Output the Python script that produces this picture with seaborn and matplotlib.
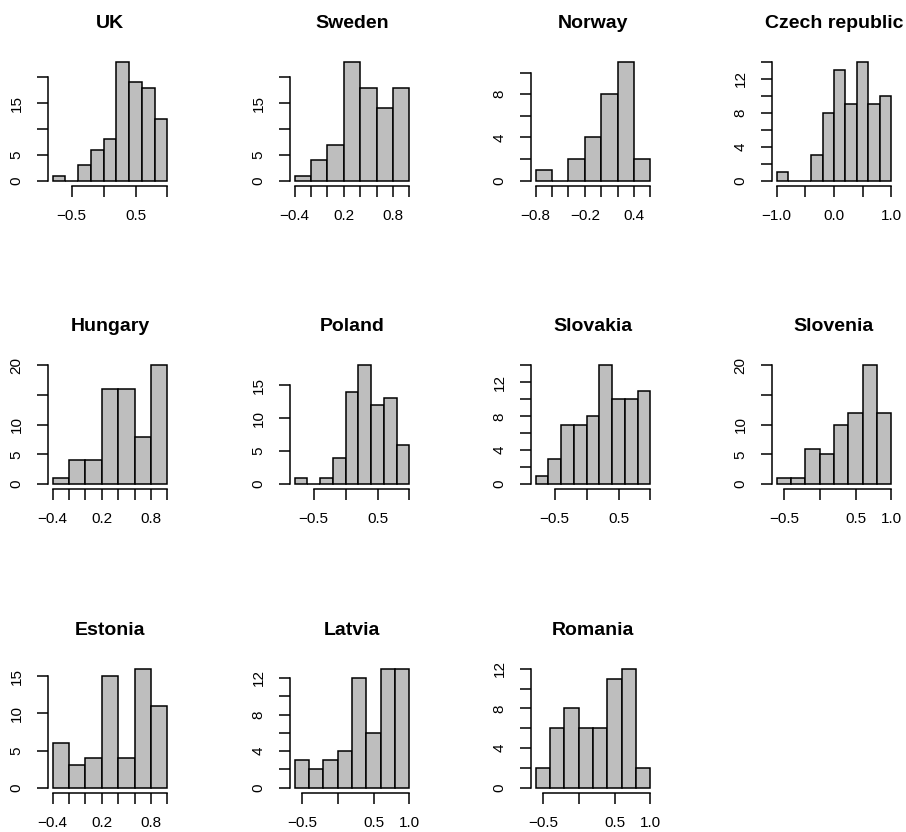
import numpy as np
import pandas as pd
import matplotlib
matplotlib.use("Agg")
import matplotlib.pyplot as plt
import seaborn as sns

# ---------------------------------------------------------------
# Data : counts per bin (bin width 0.2)
# ---------------------------------------------------------------

countries = ["UK", "Sweden", "Norway", "Czech republic",
             "Hungary", "Poland", "Slovakia", "Slovenia",
             "Estonia", "Latvia", "Romania"]

bin_width = 0.2
bin_start = [-0.8, -0.4, -0.8, -1.0,
             -0.4, -0.8, -0.8, -0.6,
             -0.4, -0.6, -0.6]

uk_counts = [1, 0, 3, 6, 8, 23, 19, 18, 12]
sweden_counts = [1, 4, 7, 23, 18, 14, 18]
norway_counts = [1, 0, 2, 4, 8, 11, 2]
czech_counts = [1, 0, 0, 3, 8, 13, 9, 14, 9, 10]
hungary_counts = [1, 4, 4, 16, 16, 8, 20]
poland_counts = [1, 0, 1, 4, 14, 18, 12, 13, 6]
slovakia_counts = [1, 3, 7, 7, 8, 14, 10, 10, 11]
slovenia_counts = [1, 1, 6, 5, 10, 12, 20, 12]
estonia_counts = [6, 3, 4, 15, 4, 16, 11]
latvia_counts = [3, 2, 3, 4, 12, 6, 13, 13]
romania_counts = [2, 6, 8, 6, 6, 11, 12, 2]

all_counts = [uk_counts, sweden_counts, norway_counts, czech_counts,
              hungary_counts, poland_counts, slovakia_counts, slovenia_counts,
              estonia_counts, latvia_counts, romania_counts]

# x ticks (R pretty()) and the labels R actually printed
xt_half = [-0.5, 0.0, 0.5, 1.0]
xt_fifth = [-0.4, -0.2, 0.0, 0.2, 0.4, 0.6, 0.8, 1.0]
xt_norway = [-0.8, -0.6, -0.4, -0.2, 0.0, 0.2, 0.4, 0.6]
xt_czech = [-1.0, -0.5, 0.0, 0.5, 1.0]

xl_half_a = ["\u22120.5", "", "0.5", ""]
xl_half_b = ["\u22120.5", "", "0.5", "1.0"]
xl_fifth = ["\u22120.4", "", "", "0.2", "", "", "0.8", ""]
xl_norway = ["\u22120.8", "", "", "\u22120.2", "", "", "0.4", ""]
xl_czech = ["\u22121.0", "", "0.0", "", "1.0"]

x_ticks = [xt_half, xt_fifth, xt_norway, xt_czech,
           xt_fifth, xt_half, xt_half, xt_half,
           xt_fifth, xt_half, xt_half]
x_labels = [xl_half_a, xl_fifth, xl_norway, xl_czech,
            xl_fifth, xl_half_a, xl_half_a, xl_half_b,
            xl_fifth, xl_half_b, xl_half_b]

yt_20 = [0, 5, 10, 15, 20]
yt_15 = [0, 5, 10, 15]
yt_10 = [0, 2, 4, 6, 8, 10]
yt_12 = [0, 2, 4, 6, 8, 10, 12]
yt_14 = [0, 2, 4, 6, 8, 10, 12, 14]

yl_20a = ["0", "5", "", "15", ""]
yl_20b = ["0", "5", "10", "", "20"]
yl_15 = ["0", "5", "10", "15"]
yl_10 = ["0", "", "4", "", "8", ""]
yl_12 = ["0", "", "4", "", "8", "", "12"]
yl_14 = ["0", "", "4", "", "8", "", "12", ""]

y_ticks = [yt_20, yt_20, yt_10, yt_14,
           yt_20, yt_15, yt_14, yt_20,
           yt_15, yt_12, yt_12]
y_labels = [yl_20a, yl_20a, yl_10, yl_14,
            yl_20b, yl_15, yl_14, yl_20b,
            yl_15, yl_12, yl_12]

# ---------------------------------------------------------------
# Figure
# ---------------------------------------------------------------

plt.rcParams["font.family"] = ["Liberation Sans", "DejaVu Sans"]
plt.rcParams["axes.unicode_minus"] = True

W, H = 906, 832
fig = plt.figure(figsize=(W / 100, H / 100), dpi=100)

col_left = [48, 290, 531, 772]
row_top = [57, 360.5, 664]
panel_w, panel_h = 124, 128.5

for i, name in enumerate(countries):
    r, c = divmod(i, 4)
    ax = fig.add_axes([col_left[c] / W, 1 - (row_top[r] + panel_h) / H,
                       panel_w / W, panel_h / H])

    counts = all_counts[i]
    edges = [round(bin_start[i] + k * bin_width, 2) for k in range(len(counts) + 1)]
    centers = [(a + b) / 2 for a, b in zip(edges[:-1], edges[1:])]
    df = pd.DataFrame({"value": centers, "n": counts})

    sns.histplot(data=df, x="value", weights="n", bins=edges,
                 color="#bebebe", edgecolor="black", linewidth=1.1,
                 alpha=1, ax=ax)

    span = edges[-1] - edges[0]
    ax.set_xlim(edges[0] - 0.04 * span, edges[-1] + 0.04 * span)
    top = max(counts)
    ax.set_ylim(-0.04 * top, top * 1.04)

    ax.set_xlabel("")
    ax.set_ylabel("")
    ax.set_title(name, fontsize=14, fontweight="bold", pad=21)

    ax.set_xticks(x_ticks[i])
    ax.set_xticklabels(x_labels[i], fontsize=11)
    ax.set_yticks(y_ticks[i])
    ax.set_yticklabels(y_labels[i], fontsize=11, rotation=90, va="center")

    for side in ["top", "right"]:
        ax.spines[side].set_visible(False)
    ax.spines["left"].set_bounds(y_ticks[i][0], y_ticks[i][-1])
    ax.spines["bottom"].set_bounds(x_ticks[i][0], x_ticks[i][-1])
    ax.spines["left"].set_linewidth(1.1)
    ax.spines["bottom"].set_linewidth(1.1)
    ax.tick_params(direction="out", length=7.7, width=1.1)
    ax.tick_params(axis="x", pad=9)
    ax.tick_params(axis="y", pad=10)
    for p in ax.patches:
        p.set_facecolor("#bebebe")
    ax.patch.set_alpha(0)

fig.savefig("out.png", dpi=100)
